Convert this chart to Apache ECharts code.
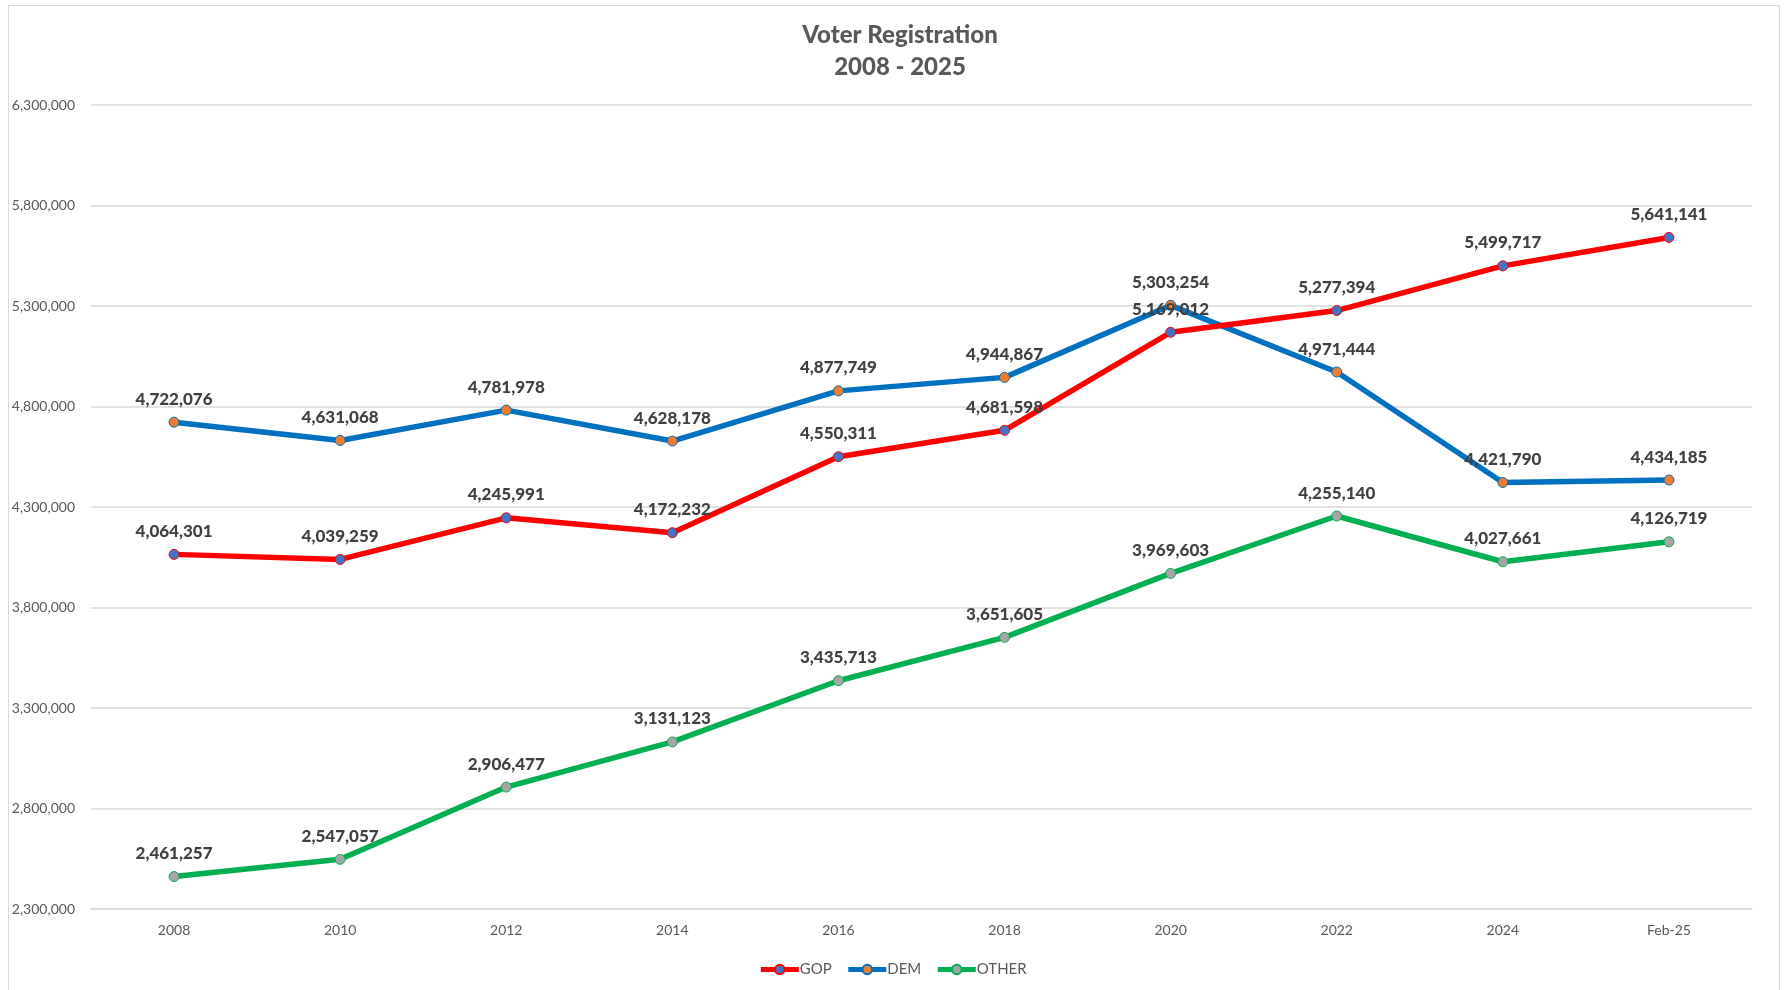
<!DOCTYPE html>
<html>
<head>
<meta charset="utf-8">
<title>Voter Registration</title>
<script src="https://cdn.jsdelivr.net/npm/echarts@6/dist/echarts.min.js"></script>
<style>
html,body{margin:0;padding:0;background:#fff;}
#frame{position:absolute;left:8px;top:5px;width:1772px;height:1000px;border:1px solid #d9d9d9;box-sizing:border-box;}
#main{position:absolute;left:0;top:0;width:1785px;height:990px;}
</style>
</head>
<body>
<div id="frame"></div>
<div id="main"></div>
<script>
var years=["2008","2010","2012","2014","2016","2018","2020","2022","2024","Feb-25"];
var gop=[4064301,4039259,4245991,4172232,4550311,4681598,5169012,5277394,5499717,5641141];
var dem=[4722076,4631068,4781978,4628178,4877749,4944867,5303254,4971444,4421790,4434185];
var other=[2461257,2547057,2906477,3131123,3435713,3651605,3969603,4255140,4027661,4126719];
var yTicks=[2300000,2800000,3300000,3800000,4300000,4800000,5300000,5800000,6300000];

var FONT="Lato";
function fmt(v){
	return String(v).replace(/\B(?=(\d{3})+(?!\d))/g,",");
}
function mkSeries(name,data,lineColor,dotColor){
	return {
		name:name,
		type:"line",
		data:data,
		symbol:"circle",
		symbolSize:10,
		showAllSymbol:true,
		lineStyle:{color:lineColor,width:5.5},
		itemStyle:{color:dotColor,borderColor:lineColor,borderWidth:1},
		label:{
			show:true,
			position:"top",
			distance:9,
			fontFamily:FONT,
			fontSize:17,
			fontWeight:900,
			color:"#404040",
			formatter:function(p){return fmt(p.value);}
		},
		emphasis:{disabled:true},
		z:name=="OTHER"?2:(name=="DEM"?3:4)
	};
}
var chart=echarts.init(document.getElementById("main"));
chart.setOption({
	animation:false,
	backgroundColor:"transparent",
	textStyle:{fontFamily:FONT},
	title:{
		text:"Voter Registration\n2008 - 2025",
		left:895,
		textAlign:"center",
		top:14,
		textStyle:{fontFamily:FONT,fontSize:24,fontWeight:900,color:"#595959",lineHeight:32}
	},
	legend:{
		data:["GOP","DEM","OTHER"],
		bottom:8,
		left:"center",
		itemWidth:38,
		itemHeight:12,
		itemGap:14,
		lineStyle:{width:5},
		textStyle:{fontFamily:FONT,fontSize:15,color:"#595959",padding:[0,0,0,-4]}
	},
	grid:{left:91,right:33,top:105,bottom:81},
	xAxis:{
		type:"category",
		data:years,
		boundaryGap:true,
		axisLine:{lineStyle:{color:"#d9d9d9",width:1.5}},
		axisTick:{show:false},
		axisLabel:{fontFamily:FONT,fontSize:14,color:"#595959",margin:14}
	},
	yAxis:{
		type:"value",
		min:2300000,
		max:6300000,
		interval:100000,
		axisLine:{show:false},
		axisTick:{show:false,customValues:yTicks},
		axisLabel:{
			customValues:yTicks,
			fontFamily:FONT,fontSize:14,color:"#595959",margin:16,
			formatter:function(v){return fmt(v);}
		},
		splitLine:{lineStyle:{color:"#d9d9d9",width:1.5}}
	},
	series:[
		mkSeries("GOP",gop,"#ff0000","#4472c4"),
		mkSeries("DEM",dem,"#0070c0","#ed7d31"),
		mkSeries("OTHER",other,"#00b050","#a5a5a5")
	]
});
</script>
</body>
</html>
